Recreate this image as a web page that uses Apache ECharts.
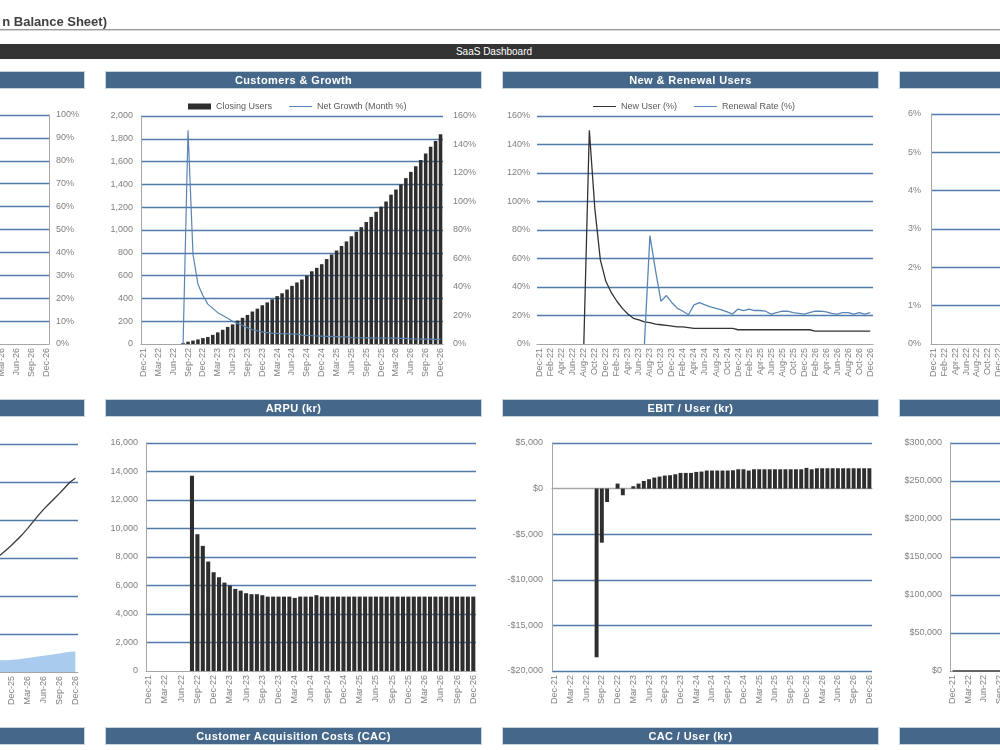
<!DOCTYPE html>
<html>
<head>
<meta charset="utf-8">
<script src="https://cdn.jsdelivr.net/npm/echarts@6/dist/echarts.min.js"></script>
<style>
	body { margin: 0; background: #fff; font-family: "Liberation Sans", Arial, sans-serif; }
	#page { position: relative; width: 1000px; height: 750px; overflow: hidden; }
	#chart { position: absolute; left: 0; top: 0; width: 1000px; height: 750px; }
	.hdr { position: absolute; height: 16px; line-height: 16px; background: #44678a; color: #fff;
		font-weight: bold; font-size: 11px; text-align: center; letter-spacing: 0.4px;
		box-shadow: 0 0 0 1px #c8d4e0; white-space: nowrap; overflow: hidden; }
</style>
</head>
<body>
<div id="page">
	<div id="chart"></div>

	<!-- sheet title + dashboard bar -->
	<div style="position:absolute;left:-10px;top:14px;width:117px;text-align:right;font-weight:bold;font-size:13px;color:#404040;white-space:nowrap;">n Balance Sheet)</div>
	<div style="position:absolute;left:0;top:29px;width:1000px;height:1px;background:#9a9a9a;"></div>
	<div style="position:absolute;left:0;top:30px;width:1000px;height:1px;background:#d6d6d6;"></div>
	<div style="position:absolute;left:0;top:44px;width:1000px;height:15px;background:#333;"></div>
	<div style="position:absolute;left:455px;top:44px;width:78px;height:15px;line-height:15px;font-size:10px;color:#fff;text-align:center;white-space:nowrap;">SaaS Dashboard</div>

	<!-- panel headers -->
	<div class="hdr" style="left:0;top:72px;width:84px;"></div>
	<div class="hdr" style="left:106px;top:72px;width:375px;">Customers &amp; Growth</div>
	<div class="hdr" style="left:503px;top:72px;width:375px;">New &amp; Renewal Users</div>
	<div class="hdr" style="left:900px;top:72px;width:110px;"></div>

	<div class="hdr" style="left:0;top:400px;width:84px;"></div>
	<div class="hdr" style="left:106px;top:400px;width:375px;">ARPU (kr)</div>
	<div class="hdr" style="left:503px;top:400px;width:375px;">EBIT / User (kr)</div>
	<div class="hdr" style="left:900px;top:400px;width:110px;"></div>

	<div class="hdr" style="left:0;top:728px;width:84px;"></div>
	<div class="hdr" style="left:106px;top:728px;width:375px;">Customer Acquisition Costs (CAC)</div>
	<div class="hdr" style="left:503px;top:728px;width:375px;">CAC / User (kr)</div>
	<div class="hdr" style="left:900px;top:728px;width:110px;"></div>
</div>

<script>
// 월 카테고리 Dec-21 ~ Dec-26 (61개)
var monthNames = ['Jan', 'Feb', 'Mar', 'Apr', 'May', 'Jun', 'Jul', 'Aug', 'Sep', 'Oct', 'Nov', 'Dec'];
var months = ['Dec-21'];
for (var yr = 22; yr <= 26; yr++) {
	for (var mo = 0; mo < 12; mo++) months.push(monthNames[mo] + '-' + yr);
}

// Customers & Growth
var closingUsers = [
	0, 0, 0, 0, 0, 0, 0, 0,
	8, 20, 30, 40, 52, 62, 80, 102, 125, 150,
	172, 205, 230, 255, 285, 310, 340, 365, 392, 420,
	445, 478, 510, 540, 565, 600, 638, 668, 700, 745,
	785, 820, 860, 900, 945, 985, 1025, 1070, 1115, 1160,
	1205, 1250, 1310, 1355, 1400, 1455, 1510, 1560, 1615, 1670,
	1730, 1780, 1840
];
var netGrowth = [
	null, null, null, null, null, null, null, null,
	0, 1.50, 0.63, 0.42, 0.34, 0.28, 0.25, 0.22, 0.20, 0.18,
	0.16, 0.145, 0.13, 0.115, 0.10, 0.093, 0.085, 0.08, 0.077, 0.074,
	0.072, 0.071, 0.07, 0.07, 0.062, 0.06, 0.058, 0.056, 0.055, 0.054,
	0.053, 0.052, 0.051, 0.05, 0.045, 0.044, 0.044, 0.043, 0.043, 0.042,
	0.042, 0.042, 0.041, 0.041, 0.04, 0.039, 0.035, 0.035, 0.034, 0.034,
	0.034, 0.033, 0.033
];

// New & Renewal Users
var newUser = [
	null, null, null, null, null, null, null, null,
	0, 1.50, 0.95, 0.59, 0.44, 0.36, 0.30, 0.25, 0.21, 0.18,
	0.17, 0.155, 0.15, 0.14, 0.135, 0.13, 0.125, 0.12, 0.12, 0.115,
	0.11, 0.11, 0.11, 0.11, 0.11, 0.11, 0.11, 0.11, 0.10, 0.10,
	0.10, 0.10, 0.10, 0.10, 0.10, 0.10, 0.10, 0.10, 0.10, 0.10,
	0.10, 0.10, 0.09, 0.09, 0.09, 0.09, 0.09, 0.09, 0.09, 0.09,
	0.09, 0.09, 0.09
];
var renewalRate = [
	null, null, null, null, null, null, null, null, null, null,
	null, null, null, null, null, null, null, null, null,
	0, 0.76, 0.52, 0.30, 0.34, 0.29, 0.25, 0.23, 0.205,
	0.275, 0.29, 0.275, 0.26, 0.25, 0.24, 0.225, 0.21, 0.245, 0.235,
	0.245, 0.235, 0.235, 0.23, 0.21, 0.22, 0.23, 0.23, 0.22, 0.215,
	0.21, 0.22, 0.23, 0.23, 0.225, 0.215, 0.21, 0.22, 0.22, 0.21,
	0.22, 0.21, 0.22
];

// ARPU (kr)
var arpu = [
	0, 0, 0, 0, 0, 0, 0, 0,
	13700, 9600, 8780, 7680, 6930, 6580, 6200, 6000, 5760, 5640,
	5460, 5390, 5390, 5320, 5220, 5220, 5220, 5220, 5220, 5130,
	5220, 5220, 5220, 5320, 5220, 5220, 5220, 5220, 5220, 5220,
	5220, 5220, 5220, 5220, 5220, 5220, 5220, 5220, 5220, 5220,
	5220, 5220, 5220, 5220, 5220, 5220, 5220, 5220, 5220, 5220,
	5220, 5220, 5220
];

// EBIT / User (kr)
var ebitPerUser = [
	0, 0, 0, 0, 0, 0, 0, 0,
	-18500, -5930, -1470, 0, 550, -730, 0, 260, 550, 840,
	1030, 1210, 1320, 1430, 1465, 1575, 1720, 1720, 1720, 1830,
	1870, 1980, 1980, 1980, 1980, 1980, 2010, 2120, 2120, 1980,
	2120, 2120, 2120, 2120, 2120, 2120, 2120, 2120, 2120, 2120,
	2270, 2120, 2230, 2230, 2230, 2230, 2230, 2230, 2230, 2230,
	2230, 2230, 2230
];

// 왼쪽 아래 (잘린 패널) - 보이는 구간만
var leftLine = [
	null, null, null, null, null, null, null, null, null, null,
	null, null, null, null, null, null, null, null, null, null,
	null, null, null, null, null, null, null, null, null, null,
	null, null, null, null, null, null, null, null, null, null,
	null, null, null, null, null, 300,
	310, 322, 334, 348, 362, 378, 395, 412, 428, 442,
	456, 470, 485, 500, 510
];
var leftArea = [
	null, null, null, null, null, null, null, null, null, null,
	null, null, null, null, null, null, null, null, null, null,
	null, null, null, null, null, null, null, null, null, null,
	null, null, null, null, null, null, null, null, null, null,
	null, null, null, null, null, 31,
	31, 31, 32, 33, 35, 37, 39, 41, 43, 45,
	47, 49, 51, 53, 54
];

// 오른쪽 아래 (잘린 패널) - 보이는 구간만
var rightLine = [0, 0, 0, 0, 0, 0, 0, 0, 0, 0, 0];

var GRID_CLR = '#4f7bab';
var AXIS_CLR = '#a6a6a6';
var LBL = { color: '#808080', fontSize: 9, fontFamily: 'Liberation Sans, Arial' };
// 범례용 가는 선 아이콘 (23x6 박스 안의 1px 선)
var LINE_ICON = 'path://M0,0 L0.01,0 L0.01,0.01 Z M0,2.4 L23,2.4 L23,3.6 L0,3.6 Z M22.99,6 L23,6 L23,5.99 Z';

function pct(v) { return Math.round(v * 100) + '%'; }
function num(v) { return v.toLocaleString('en-US'); }
function money(v) {
	var s = '$' + Math.abs(v).toLocaleString('en-US');
	return v < 0 ? '-' + s : s;
}

function monthAxis(gi, interval) {
	return {
		type: 'category', gridIndex: gi, data: months, boundaryGap: true,
		axisLine: { show: true, lineStyle: { color: AXIS_CLR, width: 1 } },
		axisTick: { show: false },
		axisLabel: Object.assign({ rotate: 90, interval: interval, margin: 4 }, LBL),
		splitLine: { show: false }
	};
}

function valAxis(gi, pos, min, max, step, fmt, margin, opts) {
	var ax = {
		type: 'value', gridIndex: gi, position: pos, min: min, max: max, interval: step,
		axisLine: { show: true, lineStyle: { color: AXIS_CLR, width: 1 } },
		axisTick: { show: false },
		axisLabel: Object.assign({ formatter: fmt, margin: margin }, LBL),
		splitLine: { show: true, showMinLine: false, lineStyle: { color: GRID_CLR, width: 1.3 } }
	};
	return Object.assign(ax, opts || {});
}

function grid(l, t, w, h) {
	return { left: l, top: t, width: w, height: h, containLabel: false, outerBoundsMode: 'none' };
}

var option = {
	animation: false,
	backgroundColor: 'transparent',
	grid: [
		grid(-256, 115, 305, 229),  // 0 top-left (cut)
		grid(141, 116, 302, 228),   // 1 customers
		grid(537, 116, 336, 228),   // 2 new & renewal
		grid(931, 114, 330, 230),   // 3 top-right (cut)
		grid(-245, 444, 323, 228),  // 4 bottom-left (cut)
		grid(146, 443, 330, 228),   // 5 ARPU
		grid(552, 443, 320, 228),   // 6 EBIT
		grid(950, 443, 317, 228)    // 7 bottom-right (cut)
	],
	legend: [
		{
			left: 183, top: 97, itemWidth: 23, itemHeight: 6, itemGap: 17,
			textStyle: { fontSize: 9, color: '#595959' },
			data: [
				{ name: 'Closing Users', icon: 'rect' },
				{ name: 'Net Growth (Month %)', icon: LINE_ICON }
			]
		},
		{
			left: 588, top: 97, itemWidth: 23, itemHeight: 6, itemGap: 17,
			textStyle: { fontSize: 9, color: '#595959' },
			data: [
				{ name: 'New User (%)', icon: LINE_ICON },
				{ name: 'Renewal Rate (%)', icon: LINE_ICON }
			]
		}
	],
	xAxis: [
		monthAxis(0, 2),
		monthAxis(1, 2),
		monthAxis(2, 1),
		monthAxis(3, 1),
		monthAxis(4, 2),
		monthAxis(5, 2),
		monthAxis(6, 2),
		monthAxis(7, 2)
	],
	yAxis: [
		valAxis(0, 'right', 0, 1, 0.1, pct, 7),
		valAxis(1, 'left', 0, 2000, 200, num, 8),
		valAxis(1, 'right', 0, 1.6, 0.2, pct, 10, { splitLine: { show: false }, axisLine: { show: false } }),
		valAxis(2, 'left', 0, 1.6, 0.2, pct, 7, { axisLine: { show: false } }),
		valAxis(3, 'left', 0, 0.06, 0.01, pct, 10),
		valAxis(4, 'left', 0, 600, 100, num, 8, { axisLabel: { show: false }, axisLine: { show: false } }),
		valAxis(5, 'left', 0, 16000, 2000, num, 8),
		valAxis(6, 'left', -20000, 5000, 5000, money, 9, {
			splitLine: { show: true, lineStyle: { width: 1.3, color: [GRID_CLR, GRID_CLR, GRID_CLR, GRID_CLR, AXIS_CLR, GRID_CLR] } }
		}),
		valAxis(7, 'left', 0, 300000, 50000, money, 8)
	],
	series: [
		{
			name: 'Closing Users', type: 'bar', xAxisIndex: 1, yAxisIndex: 1,
			data: closingUsers, barCategoryGap: '28%',
			itemStyle: { color: '#2e2e2e' }
		},
		{
			name: 'Net Growth (Month %)', type: 'line', xAxisIndex: 1, yAxisIndex: 2,
			data: netGrowth, symbol: 'none', connectNulls: false,
			lineStyle: { color: '#5a84b0', width: 1.2 }, itemStyle: { color: '#5a84b0' }
		},
		{
			name: 'New User (%)', type: 'line', xAxisIndex: 2, yAxisIndex: 3,
			data: newUser, symbol: 'none',
			lineStyle: { color: '#333', width: 1.3 }, itemStyle: { color: '#333' }
		},
		{
			name: 'Renewal Rate (%)', type: 'line', xAxisIndex: 2, yAxisIndex: 3,
			data: renewalRate, symbol: 'none',
			lineStyle: { color: '#5a86b5', width: 1.3 }, itemStyle: { color: '#5a86b5' }
		},
		{
			name: 'leftArea', type: 'line', xAxisIndex: 4, yAxisIndex: 5,
			data: leftArea, symbol: 'none',
			lineStyle: { width: 0 }, areaStyle: { color: '#a9cbee', opacity: 1 }
		},
		{
			name: 'leftLine', type: 'line', xAxisIndex: 4, yAxisIndex: 5,
			data: leftLine, symbol: 'none',
			lineStyle: { color: '#3a3a3a', width: 1.3 }
		},
		{
			name: 'ARPU', type: 'bar', xAxisIndex: 5, yAxisIndex: 6,
			data: arpu, barCategoryGap: '25%',
			itemStyle: { color: '#2e2e2e' }
		},
		{
			name: 'EBIT / User', type: 'bar', xAxisIndex: 6, yAxisIndex: 7,
			data: ebitPerUser, barCategoryGap: '25%',
			itemStyle: { color: '#2e2e2e' }
		},
		{
			name: 'rightLine', type: 'line', xAxisIndex: 7, yAxisIndex: 8,
			data: rightLine, symbol: 'none',
			lineStyle: { color: '#333', width: 1.5 }
		}
	]
};

var chart = echarts.init(document.getElementById('chart'), null, { renderer: 'canvas' });
option && chart.setOption(option);
</script>
</body>
</html>
